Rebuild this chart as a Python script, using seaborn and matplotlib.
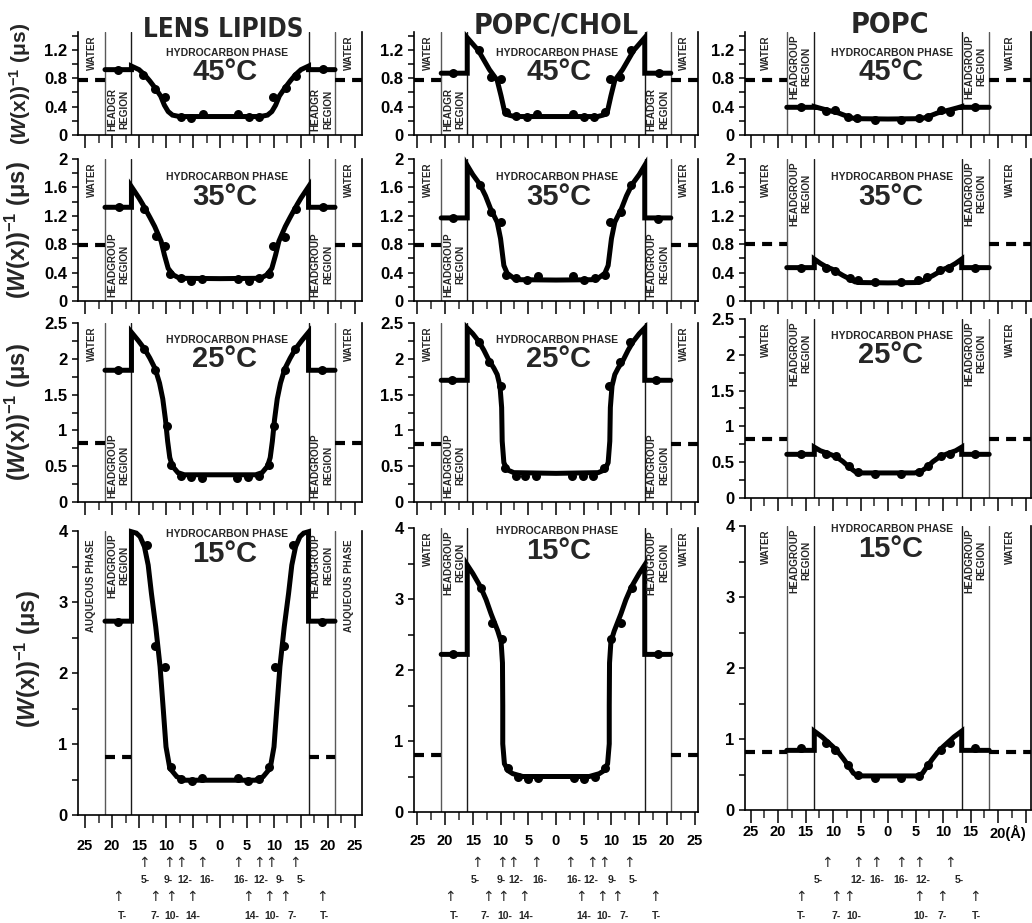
import matplotlib
matplotlib.use("Agg")
import matplotlib.pyplot as plt
import matplotlib.ticker as mticker
from matplotlib import font_manager, transforms
from matplotlib.textpath import TextPath
import numpy as np
import seaborn as sns

# ---------------------------------------------------------------- data
lipids = ["LENS LIPIDS", "POPC/CHOL", "POPC"]
temps = ["45°C", "35°C", "25°C", "15°C"]

# membrane region edges (Å from the bilayer centre), one per lipid
inner_edge = [16.4, 16.0, 13.4]
outer_edge = [21.3, 20.7, 18.4]
x_half = [26.3, 25.6, 26.0]

# plateau in the headgroup region, rows = temps, cols = lipids
headgroup = [
    [0.92, 0.87, 0.39],
    [1.32, 1.17, 0.47],
    [1.84, 1.70, 0.61],
    [2.73, 2.22, 0.84],
]
# dashed level in the water phase
water = [
    [0.77, 0.77, 0.77],
    [0.79, 0.79, 0.80],
    [0.82, 0.81, 0.83],
    [0.82, 0.80, 0.81],
]

# fitted profiles: depth (Å, from headgroup edge to centre) and value
prof_depth = {
    ("LENS LIPIDS", "45°C"): [16.4, 15.0, 14.0, 13.0, 12.0, 11.0, 10.3, 9.6, 8.8, 7.5, 0.0],
    ("LENS LIPIDS", "35°C"): [16.4, 15.0, 14.3, 13.0, 12.1, 10.9, 10.3, 9.6, 8.7, 7.5, 0.0],
    ("LENS LIPIDS", "25°C"): [16.4, 15.2, 14.0, 13.0, 12.0, 11.2, 10.6, 10.1, 9.7, 9.3, 8.8, 7.8, 6.6, 0.0],
    ("LENS LIPIDS", "15°C"): [16.4, 15.5, 14.8, 14.0, 13.3, 12.7, 11.9, 11.1, 10.5, 10.0, 9.3, 8.0, 6.5, 0.0],
    ("POPC/CHOL", "45°C"): [16.0, 14.0, 12.0, 10.6, 9.9, 9.3, 8.5, 7.5, 0.0],
    ("POPC/CHOL", "35°C"): [16.0, 15.0, 13.7, 12.7, 11.8, 10.6, 10.0, 9.4, 8.8, 7.6, 6.5, 0.0],
    ("POPC/CHOL", "25°C"): [16.0, 15.0, 13.9, 13.0, 12.1, 11.2, 10.6, 10.1, 9.8, 9.7, 9.4, 8.8, 7.6, 0.0],
    ("POPC/CHOL", "15°C"): [16.0, 15.0, 13.6, 12.6, 11.7, 10.5, 9.9, 9.65, 9.6, 9.6, 9.3, 8.6, 7.8, 6.0, 0.0],
    ("POPC", "45°C"): [13.4, 12.5, 11.3, 10.0, 9.0, 8.0, 7.0, 6.0, 0.0],
    ("POPC", "35°C"): [13.4, 12.3, 11.2, 10.2, 9.3, 8.2, 7.2, 6.0, 5.0, 0.0],
    ("POPC", "25°C"): [13.4, 12.3, 11.2, 10.2, 9.5, 8.2, 6.9, 6.0, 4.8, 0.0],
    ("POPC", "15°C"): [13.4, 12.0, 11.0, 10.0, 9.0, 8.0, 7.0, 6.3, 5.5, 0.0],
}
prof_value = {
    ("LENS LIPIDS", "45°C"): [0.97, 0.92, 0.85, 0.76, 0.66, 0.55, 0.42, 0.33, 0.28, 0.26, 0.26],
    ("LENS LIPIDS", "35°C"): [1.61, 1.45, 1.36, 1.18, 1.05, 0.84, 0.65, 0.46, 0.37, 0.32, 0.315],
    ("LENS LIPIDS", "25°C"): [2.37, 2.26, 2.14, 2.01, 1.86, 1.66, 1.44, 1.15, 0.85, 0.62, 0.50, 0.41, 0.38, 0.38],
    ("LENS LIPIDS", "15°C"): [3.99, 3.97, 3.92, 3.78, 3.52, 3.12, 2.65, 2.09, 1.48, 0.96, 0.66, 0.54, 0.49, 0.49],
    ("POPC/CHOL", "45°C"): [1.37, 1.19, 0.92, 0.77, 0.55, 0.34, 0.28, 0.26, 0.26],
    ("POPC/CHOL", "35°C"): [1.91, 1.78, 1.64, 1.48, 1.30, 1.11, 0.88, 0.50, 0.39, 0.32, 0.30, 0.295],
    ("POPC/CHOL", "25°C"): [2.43, 2.35, 2.24, 2.12, 1.98, 1.87, 1.78, 1.62, 1.32, 0.85, 0.55, 0.45, 0.41, 0.40],
    ("POPC/CHOL", "15°C"): [3.48, 3.36, 3.17, 2.99, 2.79, 2.55, 2.40, 2.10, 1.50, 0.96, 0.68, 0.58, 0.54, 0.50, 0.50],
    ("POPC", "45°C"): [0.40, 0.38, 0.355, 0.33, 0.31, 0.28, 0.25, 0.23, 0.225],
    ("POPC", "35°C"): [0.59, 0.53, 0.48, 0.45, 0.41, 0.36, 0.32, 0.27, 0.26, 0.255],
    ("POPC", "25°C"): [0.71, 0.66, 0.63, 0.60, 0.58, 0.51, 0.42, 0.37, 0.35, 0.35],
    ("POPC", "15°C"): [1.11, 1.03, 0.96, 0.89, 0.81, 0.71, 0.60, 0.52, 0.48, 0.48],
}

# measured points
dot_x = {
    ("LENS LIPIDS", "45°C"): [-18.8, -14.3, -12.1, -10.1, -7.3, -5.3, -3.1, 3.3, 5.3, 7.3, 9.8, 12.2, 14.1, 19.0],
    ("LENS LIPIDS", "35°C"): [-18.7, -14.0, -11.9, -10.1, -9.2, -7.3, -5.3, -3.3, 3.3, 5.3, 7.2, 9.1, 9.8, 12.0, 14.1, 19.0],
    ("LENS LIPIDS", "25°C"): [-18.9, -14.0, -12.0, -9.9, -9.1, -7.2, -5.3, -3.3, 3.2, 5.2, 7.2, 9.1, 10.0, 12.0, 13.8, 18.8],
    ("LENS LIPIDS", "15°C"): [-18.9, -13.5, -12.0, -10.1, -9.1, -7.2, -5.1, -3.3, 3.4, 5.2, 7.2, 9.1, 10.1, 11.9, 13.5, 18.8],
    ("POPC/CHOL", "45°C"): [-18.6, -13.8, -11.8, -10.0, -9.1, -7.3, -5.3, -3.4, 3.0, 5.0, 6.9, 8.9, 9.8, 11.6, 13.5, 18.5],
    ("POPC/CHOL", "35°C"): [-18.6, -13.7, -11.8, -9.9, -9.0, -7.2, -5.2, -3.3, 3.1, 5.1, 7.0, 8.9, 9.7, 11.7, 13.6, 18.3],
    ("POPC/CHOL", "25°C"): [-18.7, -13.9, -12.1, -10.0, -9.2, -7.3, -5.5, -3.6, 2.8, 4.8, 6.6, 8.7, 9.6, 11.5, 13.3, 18.1],
    ("POPC/CHOL", "15°C"): [-18.5, -13.6, -11.6, -9.8, -8.7, -6.9, -5.1, -3.2, 3.3, 5.1, 7.0, 8.9, 9.9, 11.7, 13.7, 18.4],
    ("POPC", "45°C"): [-15.8, -11.3, -9.6, -7.3, -5.6, -2.4, 2.4, 5.7, 7.2, 9.6, 11.3, 15.9],
    ("POPC", "35°C"): [-15.8, -11.2, -9.6, -7.0, -5.5, -2.4, 2.3, 5.5, 7.1, 9.5, 11.1, 15.8],
    ("POPC", "25°C"): [-15.8, -11.2, -9.5, -7.1, -5.5, -2.4, 2.4, 5.6, 7.2, 9.6, 11.2, 15.8],
    ("POPC", "15°C"): [-15.8, -11.2, -9.6, -7.2, -5.5, -2.4, 2.3, 5.6, 7.3, 9.6, 11.2, 15.8],
}
dot_y = {
    ("LENS LIPIDS", "45°C"): [0.92, 0.84, 0.65, 0.54, 0.25, 0.24, 0.30, 0.30, 0.25, 0.25, 0.54, 0.66, 0.83, 0.93],
    ("LENS LIPIDS", "35°C"): [1.32, 1.30, 0.91, 0.77, 0.38, 0.32, 0.28, 0.31, 0.31, 0.28, 0.32, 0.38, 0.77, 0.90, 1.30, 1.32],
    ("LENS LIPIDS", "25°C"): [1.84, 2.14, 1.84, 1.06, 0.52, 0.37, 0.35, 0.34, 0.34, 0.35, 0.37, 0.52, 1.06, 1.84, 2.14, 1.84],
    ("LENS LIPIDS", "15°C"): [2.72, 3.80, 2.38, 2.09, 0.67, 0.51, 0.48, 0.52, 0.52, 0.48, 0.51, 0.67, 2.09, 2.38, 3.80, 2.72],
    ("POPC/CHOL", "45°C"): [0.87, 1.19, 0.82, 0.79, 0.33, 0.27, 0.26, 0.30, 0.30, 0.26, 0.26, 0.33, 0.79, 0.82, 1.19, 0.87],
    ("POPC/CHOL", "35°C"): [1.17, 1.64, 1.26, 1.11, 0.37, 0.32, 0.29, 0.35, 0.35, 0.29, 0.32, 0.37, 1.11, 1.26, 1.64, 1.16],
    ("POPC/CHOL", "25°C"): [1.70, 2.24, 1.95, 1.62, 0.48, 0.37, 0.37, 0.36, 0.37, 0.37, 0.37, 0.48, 1.62, 1.95, 2.24, 1.70],
    ("POPC/CHOL", "15°C"): [2.22, 3.16, 2.66, 2.44, 0.62, 0.49, 0.47, 0.48, 0.48, 0.47, 0.49, 0.62, 2.44, 2.66, 3.16, 2.22],
    ("POPC", "45°C"): [0.39, 0.34, 0.35, 0.26, 0.24, 0.21, 0.21, 0.24, 0.26, 0.35, 0.33, 0.40],
    ("POPC", "35°C"): [0.47, 0.47, 0.42, 0.33, 0.30, 0.27, 0.27, 0.30, 0.34, 0.43, 0.47, 0.47],
    ("POPC", "25°C"): [0.61, 0.62, 0.59, 0.45, 0.37, 0.34, 0.34, 0.37, 0.44, 0.58, 0.61, 0.61],
    ("POPC", "15°C"): [0.87, 0.95, 0.85, 0.63, 0.50, 0.45, 0.45, 0.48, 0.63, 0.85, 0.95, 0.87],
}

# spin-label positions under the bottom row (Å): arrows, then their names
label_row1_x = [
    [-14.1, -9.4, -7.2, -3.3, 3.3, 7.2, 9.4, 13.9],
    [-14.3, -9.8, -7.7, -3.7, 2.5, 6.4, 8.6, 13.1],
    [-11.1, -5.4, -2.2, 2.4, 5.6, 11.3],
]
label_row1_text = [
    ["5-", "9-", "12-", "16-", "16-", "12-", "9-", "5-"],
    ["5-", "9-", "12-", "16-", "16-", "12-", "9-", "5-"],
    ["5-", "12-", "16-", "16-", "12-", "5-"],
]
label_row1_tx = [
    [-13.9, -9.6, -6.5, -2.4, 3.9, 7.6, 11.1, 15.0],
    [-14.5, -9.9, -7.3, -3.0, 3.3, 6.3, 10.1, 13.9],
    [-12.7, -5.4, -2.1, 2.4, 6.3, 13.0],
]
label_row2_x = [
    [-18.9, -12.0, -9.1, -5.2, 5.2, 9.1, 12.0, 18.9],
    [-19.1, -12.3, -9.6, -5.8, 4.5, 8.3, 11.0, 17.8],
    [-15.8, -9.5, -7.1, 5.6, 9.8, 15.8],
]
label_row2_text = [
    ["T-", "7-", "10-", "14-", "14-", "10-", "7-", "T-"],
    ["T-", "7-", "10-", "14-", "14-", "10-", "7-", "T-"],
    ["T-", "7-", "10-", "10-", "7-", "T-"],
]
label_row2_tx = [
    [-18.1, -12.0, -8.9, -5.0, 5.9, 9.6, 13.3, 19.3],
    [-18.4, -12.8, -9.2, -5.4, 5.1, 8.6, 12.2, 18.1],
    [-15.7, -9.5, -6.3, 6.0, 9.8, 16.0],
]

# ---------------------------------------------------------------- style
sns.set_theme(style="ticks")
plt.rcParams["font.family"] = ["Liberation Sans", "DejaVu Sans"]
plt.rcParams["font.weight"] = "bold"
plt.rcParams["mathtext.fontset"] = "custom"
plt.rcParams["mathtext.rm"] = "Liberation Sans:bold"
plt.rcParams["mathtext.bf"] = "Liberation Sans:bold"
plt.rcParams["mathtext.it"] = "Liberation Sans:italic:bold"


def _weight(w):
    if isinstance(w, str):
        return font_manager.weight_dict.get(w, 400)
    return w


# look for a narrow bold face for the big column titles
narrow = None
for f in font_manager.fontManager.ttflist:
    tag = (f.name + " " + f.fname).lower()
    is_narrow = ("narrow" in tag or "condensed" in tag or
                 str(f.stretch) in ("condensed", "semi-condensed", "extra-condensed"))
    if is_narrow and _weight(f.weight) >= 600 and f.style == "normal" and "mono" not in tag:
        if narrow is None or "liberation" in tag:
            narrow = f
if narrow is not None:
    title_prop = font_manager.FontProperties(fname=narrow.fname)
else:
    title_prop = font_manager.FontProperties(family="Liberation Sans", weight="bold")

W, H = 1032, 923
fig = plt.figure(figsize=(W / 100, H / 100), dpi=100)
fig.patch.set_facecolor("white")

col_px = [(78, 362), (414, 698), (745, 1031)]
row_px = [(32, 135), (159, 301), (323, 502), (531, 815)]
shift_px = {(2, 2): -4, (3, 1): -3, (3, 2): -5}
ylims = [1.45, 2.0, 2.5, 4.0]
ymaj = [0.4, 0.4, 0.5, 1.0]
ymin = [0.2, 0.2, 0.25, 0.5]
hydro_y = [0.80, 0.87, 0.905, 0.99]
temp_y = [0.61, 0.73, 0.80, 0.92]
hydro_x = [1.3, 0.2, 0.7]
temp_x = [0.9, 0.5, 0.5]
ylab_x = [-0.158, -0.158, -0.158, -0.123]
ylab_size = [15, 17, 17, 17]
xlab_pad = [8, 7, 2]

water_text = [["WATER"] * 3] * 3 + [["AUQUEOUS PHASE", "WATER", "WATER"]]
head_text = [["HEADGR\nREGION", "HEADGR\nREGION", "HEADGROUP\nREGION"]] + \
            [["HEADGROUP\nREGION"] * 3] * 3
head_top = [[False, False, True]] * 3 + [[True, True, True]]

ylabel = r"$\mathbf{(}\mathit{W}\mathbf{(x))}^{\mathbf{-1}}\mathbf{\ (\mu s)}$"

for r, temp in enumerate(temps):
    for c, lip in enumerate(lipids):
        key = (lip, temp)
        x0, x1 = col_px[c]
        y0, y1 = row_px[r]
        sh = shift_px.get((r, c), 0)
        ax = fig.add_axes([x0 / W, 1 - (y1 + sh) / H, (x1 - x0) / W, (y1 - y0) / H])
        inner, outer, xh = inner_edge[c], outer_edge[c], x_half[c]

        # region borders
        for xb, col in ((-outer, "0.35"), (-inner, "0.1"), (inner, "0.1"), (outer, "0.35")):
            ax.axvline(xb, color=col, lw=1.0, zorder=1)

        # dashed water level
        wv = water[r][c]
        if lip == "LENS LIPIDS" and temp == "15°C":
            spans = [(-outer, -inner), (inner, outer)]
        else:
            spans = [(-xh, -outer), (outer, xh)]
        for a, b in spans:
            sns.lineplot(x=[a, b], y=[wv, wv], color="black", linewidth=3.0,
                         linestyle=(0, (2.4, 1.7)), ax=ax, legend=False)

        # headgroup plateau + fitted profile (symmetric)
        depth, val = prof_depth[key], prof_value[key]
        hg = headgroup[r][c]
        xs = [-outer, -inner] + [-d for d in depth] + [d for d in depth[::-1]] + [inner, outer]
        ys = [hg, hg] + val + val[::-1] + [hg, hg]
        sns.lineplot(x=xs, y=ys, sort=False, estimator=None, color="black",
                     linewidth=3.6, ax=ax, legend=False, clip_on=False, zorder=3,
                     solid_joinstyle="miter")

        sns.scatterplot(x=dot_x[key], y=dot_y[key], s=42, color="black",
                        linewidth=0, ax=ax, legend=False, zorder=4)

        # axes cosmetics
        ax.set_xlim(-xh, xh)
        ax.set_ylim(0, ylims[r])
        ax.set_facecolor("white")
        ax.spines["top"].set_visible(False)
        for s in ("left", "bottom", "right"):
            ax.spines[s].set_linewidth(1.2)
            ax.spines[s].set_color("black")
        ax.xaxis.set_major_locator(mticker.MultipleLocator(5))
        ax.xaxis.set_minor_locator(mticker.MultipleLocator(2.5))
        ax.yaxis.set_major_locator(mticker.MultipleLocator(ymaj[r]))
        ax.yaxis.set_minor_locator(mticker.MultipleLocator(ymin[r]))
        ax.yaxis.set_major_formatter(mticker.FuncFormatter(lambda v, p: f"{v:g}"))
        ax.tick_params(axis="y", which="both", direction="out", length=4.5, width=1.1,
                       labelsize=12, pad=3, colors="black")
        ax.tick_params(axis="x", which="major", direction="out", length=9, width=1.1,
                       pad=xlab_pad[c], labelsize=10.5, colors="black")
        ax.tick_params(axis="x", which="minor", direction="out", length=5.5, width=1.1)
        ax.set_xlabel("")
        ax.set_ylabel("")
        if r == len(temps) - 1:
            ticks = np.arange(-25, 26, 5)
            ax.set_xticks(ticks)
            labs = [str(abs(int(t))) for t in ticks]
            if c == 2:
                labs[-2] = "20(Å)"
                labs[-1] = ""
            ax.set_xticklabels(labs)
            if c == 2:
                lab = ax.get_xticklabels()[-2]
                lab.set_ha("left")
                lab.set_transform(lab.get_transform() +
                                  transforms.ScaledTranslation(-0.08, 0, fig.dpi_scale_trans))
        else:
            ax.tick_params(axis="x", labelbottom=False)

        if c == 0:
            ax.set_ylabel(ylabel, fontsize=ylab_size[r])
            ax.yaxis.set_label_coords(ylab_x[r], 0.5 if r < 3 else 0.55)

        # region names
        mix = ("data", "axes fraction")
        wx = (xh + outer) / 2
        hx = (inner + outer) / 2
        woff = -6 if water_text[r][c].startswith("AUQ") else -2.5
        for sgn in (-1, 1):
            ax.annotate(water_text[r][c], (sgn * wx, 1.0), xycoords=mix,
                        xytext=(0, woff), textcoords="offset points", rotation=90,
                        ha="center", va="top", fontsize=7, fontweight="bold")
            if head_top[r][c]:
                ax.annotate(head_text[r][c], (sgn * hx, 1.0), xycoords=mix,
                            xytext=(0, -1.5), textcoords="offset points", rotation=90,
                            ha="center", va="top", fontsize=7.2, fontweight="bold",
                            multialignment="center", linespacing=1.3)
            else:
                ax.annotate(head_text[r][c], (sgn * hx, 0.0), xycoords=mix,
                            xytext=(0, 3), textcoords="offset points", rotation=90,
                            ha="center", va="bottom", fontsize=7.2, fontweight="bold",
                            multialignment="center", linespacing=1.3)

        ax.text(hydro_x[c], hydro_y[r], "HYDROCARBON PHASE", transform=ax.get_xaxis_transform(),
                ha="center", va="center", fontsize=7.5, fontweight="bold")
        ax.text(temp_x[c], temp_y[r], temp, transform=ax.get_xaxis_transform(),
                ha="center", va="center", fontsize=21, fontweight="bold")

        # spin-label arrows under the bottom row
        if r == len(temps) - 1:
            tr = transforms.blended_transform_factory(ax.transData, fig.transFigure)
            for xs_, tx_, txt_, ya, yt in (
                (label_row1_x[c], label_row1_tx[c], label_row1_text[c], 863, 880),
                (label_row2_x[c], label_row2_tx[c], label_row2_text[c], 897, 916),
            ):
                for xa in xs_:
                    ax.text(xa, 1 - ya / H, "↑", transform=tr, ha="center", va="center",
                            fontsize=10, fontweight="normal", family="DejaVu Sans",
                            clip_on=False)
                for xt, t in zip(tx_, txt_):
                    ax.text(xt, 1 - yt / H, t, transform=tr, ha="center", va="center",
                            fontsize=7.5, fontweight="bold", clip_on=False)

# column titles, sized so that their widths match the reference
for lip, xc, yc, wpx in zip(lipids, [223, 556, 890], [30, 25, 25], [157, 162, 75]):
    probe = title_prop.copy()
    probe.set_size(10)
    w10 = TextPath((0, 0), lip, prop=probe).get_extents().width
    size = min(10 * (wpx * 0.72) / w10, 27)
    fp = title_prop.copy()
    fp.set_size(size)
    fig.text(xc / W, 1 - yc / H, lip, ha="center", va="center", fontproperties=fp)

fig.savefig("out.png", dpi=100)
